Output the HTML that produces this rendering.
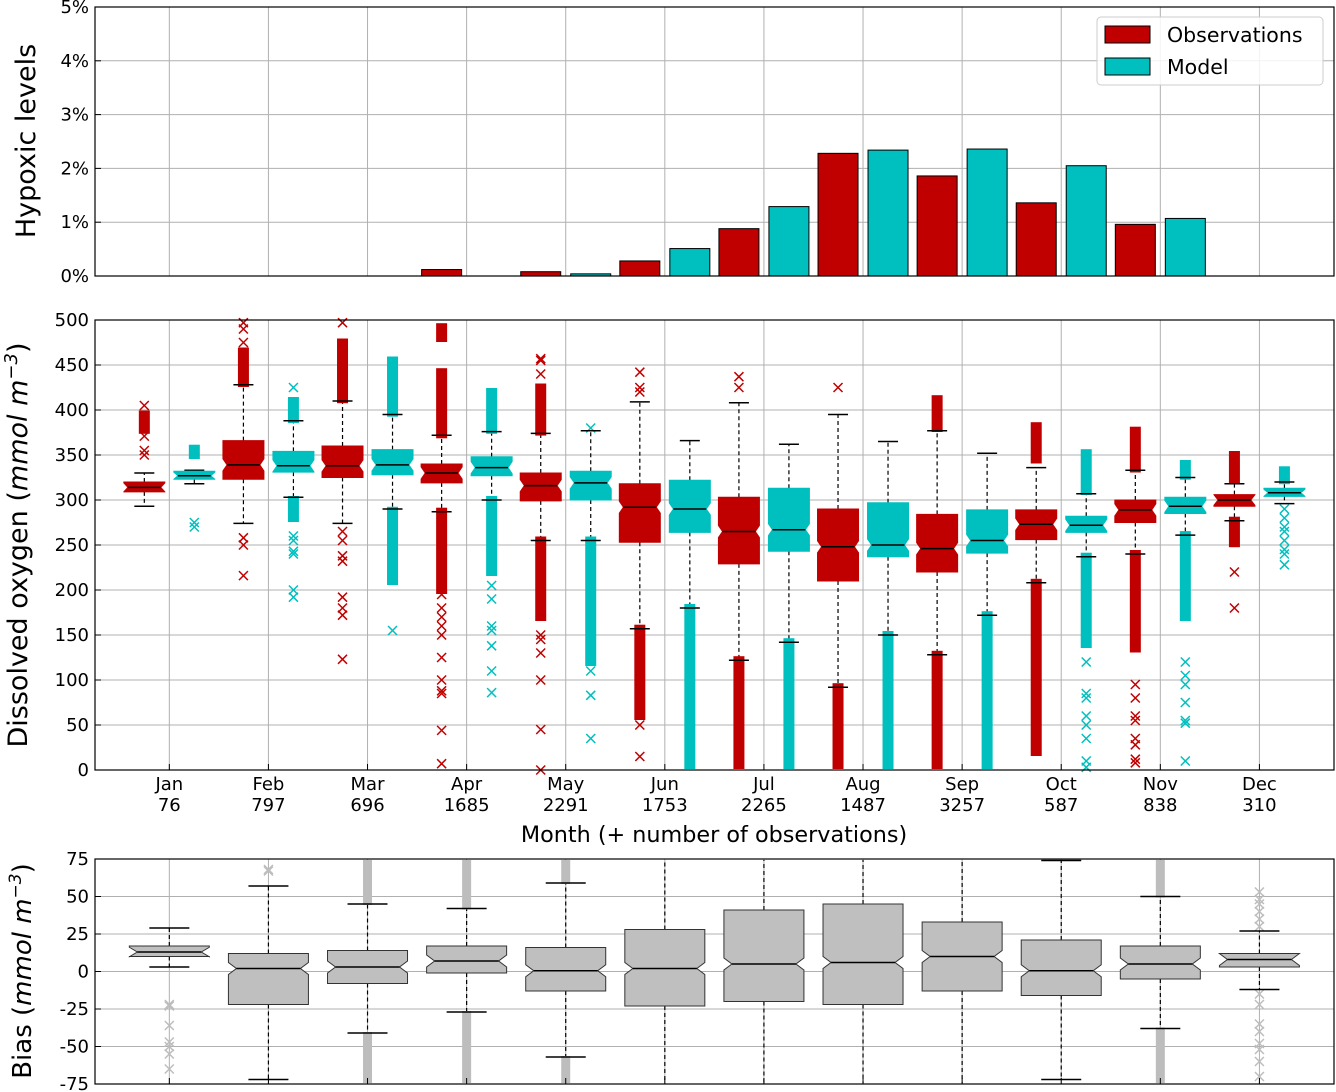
<!DOCTYPE html>
<html><head><meta charset="utf-8">
<style>
html,body{margin:0;padding:0;background:#fff;}
svg{display:block;font-family:"DejaVu Sans","Liberation Sans",sans-serif;}
</style></head>
<body>
<svg id="chart" width="1336" height="1092" viewBox="0 0 1336 1092" xmlns="http://www.w3.org/2000/svg">
<g id="g-top"></g>
<g id="g-mid"></g>
<g id="g-bias"></g>
</svg>
<script>
const months = ["Jan","Feb","Mar","Apr","May","Jun","Jul","Aug","Sep","Oct","Nov","Dec"];
const obsCounts = [76,797,696,1685,2291,1753,2265,1487,3257,587,838,310];
const hypoxObs = [0,0,0,0.12,0.08,0.28,0.88,2.28,1.86,1.36,0.96,0];
const hypoxModel = [0,0,0,0,0.04,0.51,1.29,2.34,2.36,2.05,1.07,0];
const topTicks = ["0%","1%","2%","3%","4%","5%"];
const midTicks = [0,50,100,150,200,250,300,350,400,450,500];
const biasTicks = [-75,-50,-25,0,25,50,75];

const obsQ1 = [309,323,325,319,299,253,229,210,220,256,275,293];
const obsMed = [314,339,338,330,316,292,265,248,246,273,289,300];
const obsQ3 = [320,366,360,340,330,318,303,290,284,289,300,306];
const obsLo = [293,274,274,287,255,157,122,92,128,208,240,277];
const obsHi = [330,428,410,372,374,409,408,395,377,336,333,318];
const obsDense = [[[378,395]],[[430,465]],[[412,475]],[[373,442],[480,492],[200,287]],[[376,425],[170,255]],[[60,157]],[[0,122]],[[0,92]],[[380,412],[0,128]],[[345,382],[20,208]],[[335,377],[135,240]],[[322,350],[252,277]]];
const obsPts = [[350,355,371,384,405],[475,490,497,258,250,216],[497,265,255,238,232,192,180,172,123],[195,180,170,160,150,125,100,88,85,44,7],[440,455,457,150,145,130,100,45,0],[420,425,442,50,15],[425,437],[425],[],[],[95,80,60,55,35,28,12,8],[220,180]];
const modQ1 = [323,331,328,327,300,264,243,237,241,264,285,304];
const modMed = [327,338,339,336,319,290,267,250,255,272,293,308];
const modQ3 = [332,354,356,348,332,322,313,297,289,282,303,313];
const modLo = [318,303,290,300,255,180,142,150,172,237,261,296];
const modHi = [333,388,395,376,377,366,362,365,352,307,325,320];
const modDense = [[[350,357]],[[390,410],[280,300]],[[397,455],[210,288]],[[378,420],[220,300]],[[120,255]],[[0,180]],[[0,142]],[[0,150]],[[0,172]],[[310,352],[140,237]],[[327,340],[170,261]],[[322,333]]];
const modPts = [[270,275],[425,260,255,243,240,200,192],[155],[205,190,160,155,138,110,86],[380,110,83,35],[30,20,10],[],[],[],[120,85,80,60,50,35,10,3],[120,105,95,75,55,52,10],[290,280,270,265,255,245,240,228]];

const biasQ1 = [10,-22,-8,-1,-13,-23,-20,-22,-13,-16,-5,3];
const biasMed = [13,2,3,7,0.5,2,5,6,10,0.5,5,8];
const biasQ3 = [17,12,14,17,16,28,41,45,33,21,17,12];
const biasLo = [3,-72,-41,-27,-57,-100,-100,-100,-100,-72,-38,-12];
const biasHi = [29,57,45,42,59,100,100,100,100,74,50,27];
const biasDense = [[],[],[[47,75],[-75,-43]],[[44,75],[-75,-29]],[[61,75],[-75,-59]],[],[],[],[],[],[[52,75],[-75,-40]],[]];
const biasPts = [[-22,-23,-36,-47,-50,-55,-65],[67,68],[],[],[],[],[],[],[],[],[],[53,48,45,40,35,30,-15,-22,-35,-40,-48,-52,-60,-70]];

const NS="http://www.w3.org/2000/svg";
const RED="#c00000", CYAN="#00bfbf", GRAY="#bfbfbf", GRID="#b0b0b0";
const X0=95, X1=1334;
const xs = m => X0 + (m + 1 - 0.25) * 99.1;
const yTop = p => 276 - 53.8 * p;
const yMid = v => 770 - 0.9 * v;
const yBias = v => 971.5 - 1.5 * v;

function mk(parent, tag, attrs, text){
  const e=document.createElementNS(NS,tag);
  for(const k in attrs) e.setAttribute(k,attrs[k]);
  if(text!==undefined) e.textContent=text;
  parent.appendChild(e); return e;
}

function panelFrame(g, yT, yB){
  months.forEach((m,i)=>{
    const l=mk(g,'line',{x1:xs(i),x2:xs(i),y1:yT,y2:yB,stroke:GRID,'stroke-width':1});
    
    
  });
}
function frame(g, yT, yB){
  const r=mk(g,'rect',{x:X0,y:yT,width:X1-X0,height:yB-yT,fill:'none',stroke:'#000','stroke-width':1.2});
  
  
}

// ---------- TOP PANEL ----------
const gt=document.getElementById('g-top');
panelFrame(gt,7,276);
topTicks.forEach((t,i)=>{
  const y=yTop(i);
  if(i>0&&i<5){const l=mk(gt,'line',{x1:X0,x2:X1,y1:y,y2:y,stroke:GRID,'stroke-width':1});
  
  }
  mk(gt,'line',{x1:X0,x2:X0+6,y1:y,y2:y,stroke:'#000','stroke-width':1});
  const tx=mk(gt,'text',{x:X0-6,y:y+6,'text-anchor':'end','font-size':18},t);
  
  
});
months.forEach((m,i)=>{
  const hO=yTop(0)-yTop(hypoxObs[i]);
  const b1=mk(gt,'rect',{x:xs(i)-45,y:yTop(hypoxObs[i]),width:40,height:hO,fill:RED,stroke:'#000','stroke-width':1});
  
  
  const hM=yTop(0)-yTop(hypoxModel[i]);
  const b2=mk(gt,'rect',{x:xs(i)+5,y:yTop(hypoxModel[i]),width:40,height:hM,fill:CYAN,stroke:'#000','stroke-width':1});
  
  
});
frame(gt,7,276);
const yl1=mk(gt,'text',{x:0,y:0,transform:'translate(35,141) rotate(-90)','text-anchor':'middle','font-size':27},'Hypoxic levels');


const lg=mk(gt,'g',{});


mk(lg,'rect',{x:1097,y:17,width:226,height:68,rx:4,fill:'#fff','fill-opacity':0.85,stroke:'#ccc','stroke-width':1});
const le1=mk(lg,'g',{});


mk(le1,'rect',{x:1105,y:26,width:45,height:17,fill:RED,stroke:'#000','stroke-width':1});
mk(le1,'text',{x:1167,y:42,'font-size':20.5},'Observations');
const le2=mk(lg,'g',{});


mk(le2,'rect',{x:1105,y:58,width:45,height:17,fill:CYAN,stroke:'#000','stroke-width':1});
mk(le2,'text',{x:1167,y:74,'font-size':20.5},'Model');

function notchBox(g,cx,w,yq1,yq3,ymed,fill,notchPx){
  const L=cx-w/2,R=cx+w/2,inset=w*0.1;
  const d=`M${L},${yq3} L${R},${yq3} L${R},${ymed-notchPx} L${R-inset},${ymed} L${R},${ymed+notchPx} L${R},${yq1} L${L},${yq1} L${L},${ymed+notchPx} L${L+inset},${ymed} L${L},${ymed-notchPx} Z`;
  return mk(g,'path',{d:d,fill:fill,stroke:fill==GRAY?'#333':fill,'stroke-width':1});
}
function xMark(g,cx,y,col,s){
  mk(g,'path',{d:`M${cx-s},${y-s} L${cx+s},${y+s} M${cx-s},${y+s} L${cx+s},${y-s}`,stroke:col,'stroke-width':1.5,fill:'none'});
}
function drawBox(g,name,cx,w,capW,q1,med,q3,lo,hi,dense,pts,col,ys,yMinPx,yMaxPx,dw){
  const bg=mk(g,'g',{});
  
  
  const clamp=y=>Math.max(yMinPx,Math.min(yMaxPx,y));
  mk(bg,'line',{x1:cx,x2:cx,y1:ys(q3),y2:clamp(ys(hi)),stroke:'#000','stroke-width':1.2,'stroke-dasharray':'4,3'});
  mk(bg,'line',{x1:cx,x2:cx,y1:ys(q1),y2:clamp(ys(lo)),stroke:'#000','stroke-width':1.2,'stroke-dasharray':'4,3'});
  const mcol = col==GRAY?'#bdbdbd':col;
  dense.forEach(r=>{
    const a=clamp(ys(r[1])-4),b=clamp(ys(r[0])+4);
    mk(bg,'rect',{x:cx-dw/2,y:a,width:dw,height:b-a,fill:mcol});
  });
  pts.forEach(v=>{const y=ys(v); if(y>=yMinPx-2&&y<=yMaxPx+2) xMark(bg,cx,y,mcol,4.5);});
  if(ys(hi)>=yMinPx) mk(bg,'line',{x1:cx-capW/2,x2:cx+capW/2,y1:ys(hi),y2:ys(hi),stroke:'#000','stroke-width':1.5});
  if(ys(lo)<=yMaxPx) mk(bg,'line',{x1:cx-capW/2,x2:cx+capW/2,y1:ys(lo),y2:ys(lo),stroke:'#000','stroke-width':1.5});
  const np=Math.min(6,(ys(q1)-ys(q3))/2-0.5);
  notchBox(bg,cx,w,ys(q1),ys(q3),ys(med),col,np);
  mk(bg,'line',{x1:cx-w/2+w*0.1,x2:cx+w/2-w*0.1,y1:ys(med),y2:ys(med),stroke:'#000','stroke-width':1.5});
}

// ---------- MIDDLE PANEL ----------
const gm=document.getElementById('g-mid');
panelFrame(gm,320,770);
midTicks.forEach(t=>{
  const y=yMid(t);
  if(t>0&&t<500){const l=mk(gm,'line',{x1:X0,x2:X1,y1:y,y2:y,stroke:GRID,'stroke-width':1});
  
  }
  mk(gm,'line',{x1:X0,x2:X0+6,y1:y,y2:y,stroke:'#000','stroke-width':1});
  const tx=mk(gm,'text',{x:X0-6,y:y+6,'text-anchor':'end','font-size':18},String(t));
  
  
});
const clipM=mk(gm,'g',{});
months.forEach((m,i)=>{
  drawBox(clipM,'box-obs-'+m.toLowerCase(),xs(i)-25,41,20,obsQ1[i],obsMed[i],obsQ3[i],obsLo[i],obsHi[i],obsDense[i],obsPts[i],RED,yMid,321,769,11);
  drawBox(clipM,'box-model-'+m.toLowerCase(),xs(i)+25,41,20,modQ1[i],modMed[i],modQ3[i],modLo[i],modHi[i],modDense[i],modPts[i],CYAN,yMid,321,769,11);
  mk(gm,'line',{x1:xs(i),x2:xs(i),y1:770,y2:764,stroke:'#000','stroke-width':1});
  const t1=mk(gm,'text',{x:xs(i),y:790,'text-anchor':'middle','font-size':18},m);
  
  
  const t2=mk(gm,'text',{x:xs(i),y:811,'text-anchor':'middle','font-size':18},String(obsCounts[i]));
  
  
});
frame(gm,320,770);
const xl=mk(gm,'text',{x:714,y:842,'text-anchor':'middle','font-size':22.3},'Month (+ number of observations)');


const yl2=mk(gm,'text',{x:0,y:0,transform:'translate(27,545) rotate(-90)','text-anchor':'middle','font-size':27});


yl2.innerHTML='Dissolved oxygen (<tspan font-style="italic">mmol m</tspan><tspan font-style="italic" dy="-10" font-size="18">−3</tspan><tspan dy="10">)</tspan>';

// ---------- BIAS PANEL ----------
const gb=document.getElementById('g-bias');
panelFrame(gb,859,1084);
biasTicks.forEach(t=>{
  const y=yBias(t);
  if(t>-75&&t<75){const l=mk(gb,'line',{x1:X0,x2:X1,y1:y,y2:y,stroke:GRID,'stroke-width':1});
  
  }
  mk(gb,'line',{x1:X0,x2:X0+6,y1:y,y2:y,stroke:'#000','stroke-width':1});
  const tx=mk(gb,'text',{x:X0-6,y:y+6,'text-anchor':'end','font-size':18},String(t));
  
  
});
months.forEach((m,i)=>{
  drawBox(gb,'box-bias-'+m.toLowerCase(),xs(i),80,40,biasQ1[i],biasMed[i],biasQ3[i],biasLo[i],biasHi[i],biasDense[i],biasPts[i],GRAY,yBias,860,1083,9);
  mk(gb,'line',{x1:xs(i),x2:xs(i),y1:1084,y2:1078,stroke:'#000','stroke-width':1});
});
frame(gb,859,1084);
const yl3=mk(gb,'text',{x:0,y:0,transform:'translate(31,971) rotate(-90)','text-anchor':'middle','font-size':26});


yl3.innerHTML='Bias (<tspan font-style="italic">mmol m</tspan><tspan font-style="italic" dy="-10" font-size="17">−3</tspan><tspan dy="10">)</tspan>';
</script>
</body></html>
